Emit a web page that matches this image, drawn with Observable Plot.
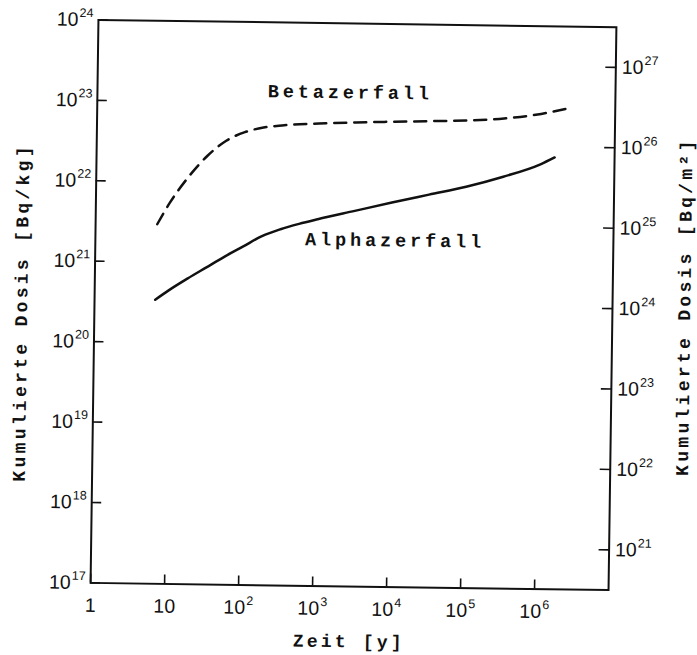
<!DOCTYPE html>
<html>
<head>
<meta charset="utf-8">
<script src="https://cdn.jsdelivr.net/npm/d3@7"></script>
<script src="https://cdn.jsdelivr.net/npm/@observablehq/plot@0.6"></script>
<style>
  html, body { margin: 0; padding: 0; background: #fff; }
  #chart svg { display: block; transform: rotate(0.8deg); transform-origin: 353px 304.5px; }
</style>
</head>
<body>
<div id="chart"></div>
<script>
// Cumulative dose from beta decay (dashed) and alpha decay (solid), in Bq/kg over time in years
const betaYears = [6.8, 10, 17.8, 31.6, 56.2, 100, 178, 316, 1000, 3160, 10000, 31600, 100000, 316000, 1000000, 2190000];
const betaDose  = [2.95e21, 5.5e21, 1.17e22, 2.14e22, 3.31e22, 4.27e22, 4.9e22, 5.25e22, 5.62e22, 5.89e22, 6.1e22, 6.3e22, 6.53e22, 7.0e22, 8.1e22, 9.5e22];

const alphaYears = [6.6, 10, 17.8, 31.6, 56.2, 100, 178, 316, 562, 1000, 3160, 10000, 31600, 100000, 316000, 1000000, 1550000];
const alphaDose  = [3.4e20, 4.47e20, 6.3e20, 8.7e20, 1.2e21, 1.62e21, 2.19e21, 2.69e21, 3.16e21, 3.63e21, 4.68e21, 6.03e21, 7.68e21, 9.77e21, 1.32e22, 1.91e22, 2.34e22];

// Axis ticks
const timeTicks = [1, 10, 1e2, 1e3, 1e4, 1e5, 1e6];
const doseKgExponents = [17, 18, 19, 20, 21, 22, 23, 24];
const doseAreaExponents = [21, 22, 23, 24, 25, 26, 27];
// Bq/m² scale sits 3.5 decades above the Bq/kg scale
const areaOffsetDecades = 3.5;

// Curve names and where they are written (years, Bq/kg)
const curveNames = ["Betazerfall", "Alphazerfall"];
const curveNameYears = [2620, 11200];
const curveNameDose = [1.39e23, 2.04e21];

// Axis titles
const xTitle = "Zeit [y]";
const yLeftTitle = "Kumulierte Dosis [Bq/kg]";
const yRightTitle = "Kumulierte Dosis [Bq/m²]";

const beta = betaYears.map((t, i) => ({t, dose: betaDose[i]}));
const alpha = alphaYears.map((t, i) => ({t, dose: alphaDose[i]}));
const names = curveNames.map((name, i) => ({name, t: curveNameYears[i], dose: curveNameDose[i]}));
const areaTicks = doseAreaExponents.map(e => ({e, v: 10 ** (e - areaOffsetDecades)}));

const pow10 = e => `10^${e}`;
const exp10 = d => Math.round(Math.log10(d));

const titleFont = {fontFamily: "'Liberation Mono', 'DejaVu Sans Mono', monospace", fontWeight: "bold", fill: "#111"};

const chart = Plot.plot({
  width: 697,
  height: 655,
  marginLeft: 94,
  marginRight: 85,
  marginTop: 23,
  marginBottom: 69,
  style: {fontFamily: "'Liberation Sans', Arial, sans-serif", fontSize: "19.5px", color: "#111", background: "#fff", overflow: "visible"},
  x: {type: "log", domain: [1, 1e7]},
  y: {type: "log", domain: [1e17, 1e24]},
  marks: [
    Plot.frame({stroke: "#111", strokeWidth: 2}),
    Plot.axisX(timeTicks, {
      anchor: "bottom", tickSize: -9, tickPadding: 24, strokeWidth: 1.6,
      tickFormat: d => d <= 10 ? String(d) : pow10(exp10(d)), label: null
    }),
    Plot.axisY(doseKgExponents.map(e => 10 ** e), {
      anchor: "left", tickSize: -10, tickPadding: 15, strokeWidth: 1.6,
      tickFormat: d => pow10(exp10(d)), label: null
    }),
    // second dose scale (Bq/m²) on the right: inward ticks plus their labels
    Plot.axisY(areaTicks.map(d => d.v), {
      anchor: "right", tickSize: -11, strokeWidth: 1.6, tickFormat: () => "", label: null
    }),
    Plot.text(areaTicks, {
      y: "v", text: d => pow10(d.e), frameAnchor: "right", dx: 6, textAnchor: "start", lineAnchor: "middle"
    }),
    Plot.line(beta, {x: "t", y: "dose", stroke: "#111", strokeWidth: 2.5, strokeDasharray: "12,8", curve: "monotone-x"}),
    Plot.line(alpha, {x: "t", y: "dose", stroke: "#111", strokeWidth: 2.5, curve: "monotone-x"}),
    Plot.text(names, {x: "t", y: "dose", text: "name", fontSize: 18.5, textAnchor: "middle", lineAnchor: "middle", ...titleFont}),
    Plot.text([xTitle], {frameAnchor: "bottom", dy: 55, textAnchor: "middle", lineAnchor: "middle", fontSize: 18, ...titleFont}),
    Plot.text([yLeftTitle], {frameAnchor: "left", dx: -73, dy: 12, rotate: -90, textAnchor: "middle", lineAnchor: "middle", fontSize: 18, ...titleFont}),
    Plot.text([yRightTitle], {frameAnchor: "right", dx: 72, dy: -3, rotate: -90, textAnchor: "middle", lineAnchor: "middle", fontSize: 18, ...titleFont})
  ]
});

// Typewriter-style spacing for the titles and curve names
const spacing = new Map([
  [xTitle, "3.2px"], [yLeftTitle, "3.3px"], [yRightTitle, "3.3px"],
  ...curveNames.map(n => [n, "3.9px"])
]);

chart.querySelectorAll("text").forEach(node => {
  const s = node.textContent;
  if (spacing.has(s)) { node.style.letterSpacing = spacing.get(s); return; }
  // Powers of ten: write the exponent as a raised, smaller tspan
  const m = /^10\^(\d+)$/.exec(s);
  if (!m) return;
  node.textContent = "10";
  const sup = document.createElementNS("http://www.w3.org/2000/svg", "tspan");
  sup.setAttribute("dy", "-9");
  sup.setAttribute("dx", "1");
  sup.setAttribute("font-size", "12.5px");
  sup.textContent = m[1];
  node.appendChild(sup);
});

document.getElementById("chart").appendChild(chart);
</script>
</body>
</html>
